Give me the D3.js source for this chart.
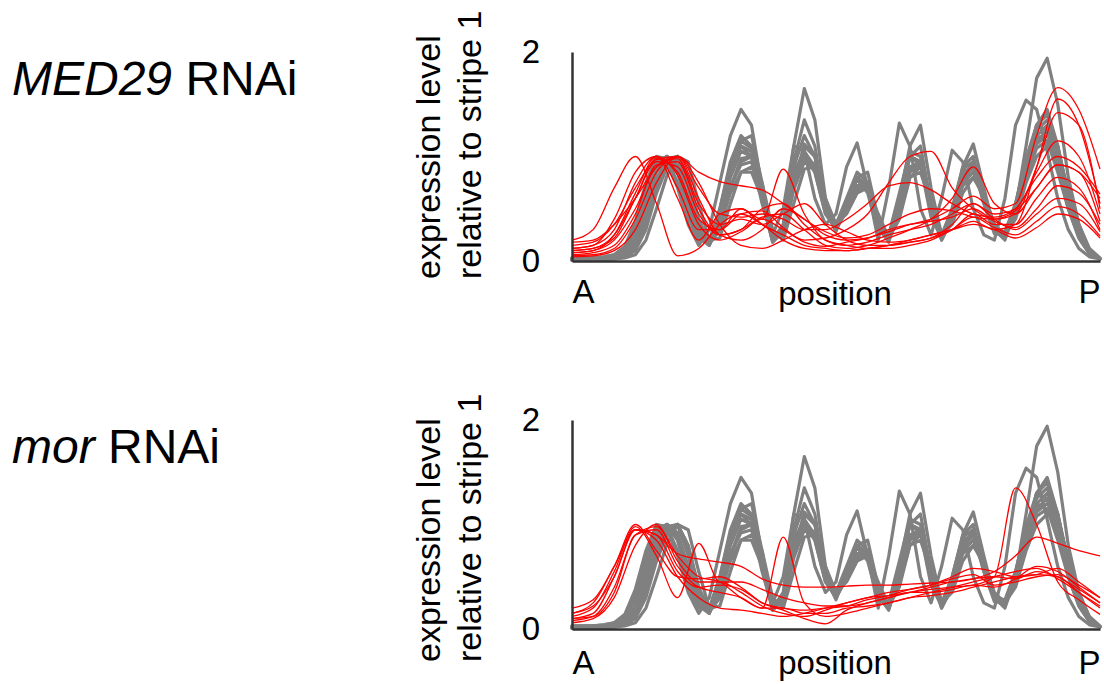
<!DOCTYPE html>
<html><head><meta charset="utf-8">
<script src="https://cdn.jsdelivr.net/npm/d3@7"></script>
<style>
body{margin:0;background:#fff}
svg{display:block}
text{font-family:"Liberation Sans",Arial,sans-serif;fill:#000}
</style>
</head><body>
<svg id="chart" width="1104" height="684"></svg>
<script>
// ---------- DATA ----------
const grayPositions = [0,2,4,6,8,10,12,14,16,18,20,22,24,26,28,30,32,34,36,38,40,42,44,46,48,50,52,54,56,58,60,62,64,66,68,70,72,74,76,78,80,82,84,86,88,90,92,94,96,98,100];
const redPositions = [0,4,8,12,16,20,24,28,32,36,40,44,48,52,56,60,64,68,72,76,80,84,88,92,96,100];

// wild-type reference profiles (gray), same in both panels
const wildTypeProfiles = [
 [0.03,0.03,0.03,0.04,0.06,0.12,0.35,0.7,1.0,0.95, 0.7,0.35,0.15,0.3,0.75,1.2,1.45,1.3,0.7,0.25, 0.5,1.1,1.05,0.6,0.35,0.45,0.9,1.13,0.7,0.2, 0.7,1.32,1.1,0.5,0.25,0.6,1.06,0.95,0.5,0.25, 0.2,0.6,1.3,1.54,1.45,1.05,0.6,0.3,0.12,0.04, 0.02],
 [0.01,0.01,0.01,0.02,0.03,0.05,0.12,0.35,0.7,0.95, 1.0,0.75,0.35,0.15,0.4,0.85,1.15,1.2,0.75,0.2, 0.35,1.1,1.65,1.35,0.6,0.3,0.5,0.8,0.85,0.4, 0.2,0.6,1.1,1.3,0.7,0.25,0.4,0.9,1.12,0.7, 0.3,0.2,0.5,1.1,1.75,1.94,1.5,0.8,0.35,0.1, 0.02],
 [0.02,0.02,0.02,0.03,0.04,0.08,0.22,0.55,0.9,1.0, 0.9,0.55,0.25,0.15,0.45,0.85,1.1,1.05,0.6,0.2, 0.3,0.95,1.35,1.1,0.5,0.3,0.55,0.8,0.7,0.3, 0.22,0.6,1.0,0.95,0.45,0.22,0.45,0.85,0.9,0.55, 0.28,0.25,0.5,0.9,1.3,1.45,1.1,0.6,0.28,0.08, 0.02],
 [0.01,0.01,0.01,0.02,0.02,0.04,0.1,0.3,0.65,0.9, 1.0,0.8,0.4,0.18,0.3,0.7,0.95,1.0,0.65,0.22, 0.25,0.75,1.1,1.0,0.55,0.32,0.5,0.72,0.75,0.4, 0.2,0.5,0.9,0.95,0.5,0.2,0.4,0.75,0.85,0.6, 0.3,0.25,0.45,0.85,1.2,1.3,1.1,0.65,0.3,0.1, 0.02],
 [0.02,0.02,0.03,0.03,0.05,0.1,0.28,0.62,0.95,1.0, 0.85,0.5,0.22,0.18,0.5,0.95,1.2,1.1,0.6,0.2, 0.3,0.8,1.0,0.85,0.45,0.35,0.6,0.85,0.75,0.3, 0.25,0.65,1.05,1.0,0.45,0.25,0.5,0.9,1.0,0.6, 0.3,0.28,0.55,0.95,1.2,1.15,0.85,0.5,0.22,0.07, 0.02],
 [0.01,0.01,0.01,0.01,0.02,0.03,0.06,0.2,0.5,0.82, 1.0,0.95,0.55,0.2,0.22,0.55,0.85,0.9,0.75,0.3, 0.2,0.55,0.88,0.9,0.6,0.35,0.45,0.65,0.7,0.45, 0.22,0.4,0.8,0.9,0.6,0.25,0.35,0.65,0.8,0.65, 0.35,0.25,0.4,0.75,1.0,1.1,1.0,0.7,0.35,0.12, 0.03],
 [0.02,0.02,0.02,0.03,0.04,0.07,0.18,0.5,0.85,1.0, 0.92,0.6,0.28,0.16,0.4,0.8,1.05,1.0,0.6,0.18, 0.28,0.8,1.05,0.9,0.5,0.28,0.55,0.8,0.72,0.32, 0.18,0.55,1.0,1.1,0.55,0.2,0.42,0.8,0.95,0.62, 0.28,0.22,0.5,0.9,1.25,1.35,1.05,0.6,0.27,0.09, 0.02],
 [0.02,0.02,0.02,0.02,0.03,0.06,0.15,0.42,0.78,0.98, 1.0,0.7,0.32,0.17,0.35,0.72,0.92,0.95,0.62,0.22, 0.26,0.72,1.0,0.92,0.55,0.33,0.5,0.72,0.75,0.38, 0.2,0.48,0.88,0.95,0.52,0.22,0.4,0.78,0.9,0.6, 0.3,0.26,0.48,0.85,1.15,1.25,1.05,0.62,0.3,0.1, 0.02],
 [0.02,0.02,0.02,0.03,0.05,0.1,0.3,0.65,0.95,1.0, 0.85,0.5,0.22,0.15,0.45,0.9,1.15,1.08,0.58,0.18, 0.3,0.9,1.2,1.0,0.5,0.3,0.55,0.8,0.72,0.3, 0.22,0.6,1.0,0.95,0.48,0.22,0.45,0.82,0.9,0.58, 0.28,0.24,0.5,0.92,1.3,1.4,1.1,0.62,0.28,0.09, 0.02],
 [0.01,0.01,0.02,0.02,0.03,0.05,0.14,0.4,0.75,0.97, 1.0,0.75,0.35,0.18,0.32,0.65,0.85,0.85,0.6,0.25, 0.25,0.68,0.95,0.88,0.55,0.36,0.48,0.68,0.7,0.42, 0.22,0.45,0.8,0.85,0.55,0.24,0.38,0.72,0.8,0.62, 0.32,0.27,0.45,0.8,1.08,1.15,1.0,0.62,0.3,0.1, 0.02],
 [0.03,0.03,0.03,0.04,0.06,0.14,0.38,0.75,1.0,0.98, 0.75,0.42,0.2,0.2,0.5,0.92,1.1,1.0,0.55,0.2, 0.32,0.85,1.05,0.85,0.45,0.3,0.58,0.78,0.65,0.28, 0.24,0.62,1.0,0.92,0.42,0.22,0.5,0.88,0.95,0.55, 0.26,0.26,0.55,0.98,1.3,1.25,0.9,0.5,0.22,0.07, 0.02],
 [0.02,0.02,0.02,0.02,0.03,0.05,0.12,0.35,0.7,0.95, 1.0,0.8,0.38,0.16,0.3,0.7,0.98,1.0,0.68,0.24, 0.24,0.7,1.12,1.0,0.55,0.3,0.48,0.7,0.72,0.42, 0.2,0.45,0.85,0.92,0.55,0.22,0.38,0.75,0.85,0.64, 0.32,0.24,0.44,0.82,1.12,1.2,1.05,0.66,0.32,0.1, 0.02]
];

// MED29 RNAi profiles (red, top panel)
const med29Profiles = [
 [0.15,0.18,0.35,0.7,0.97,1.0,0.85,0.76,0.72,0.68,0.55,0.4,0.28,0.22,0.25,0.35,0.45,0.5,0.48,0.42,0.4,0.48,0.7,0.92,0.85,0.6],
 [0.1,0.12,0.22,0.6,0.98,0.85,0.4,0.3,0.45,0.48,0.32,0.18,0.14,0.18,0.22,0.28,0.35,0.4,0.5,0.62,0.5,0.55,1.2,1.66,1.45,0.88],
 [0.2,0.3,0.7,1.0,0.55,0.05,0.12,0.35,0.45,0.35,0.2,0.12,0.1,0.1,0.12,0.15,0.2,0.25,0.3,0.38,0.3,0.35,0.9,1.55,1.3,0.55],
 [0.08,0.1,0.25,0.65,1.0,0.82,0.35,0.2,0.28,0.4,0.3,0.2,0.22,0.3,0.45,0.75,1.0,1.05,0.7,0.5,0.4,0.45,0.9,1.42,1.3,0.5],
 [0.12,0.15,0.3,0.75,1.0,0.7,0.3,0.3,0.5,0.4,0.88,0.45,0.2,0.15,0.18,0.25,0.3,0.35,0.45,0.55,0.45,0.5,0.85,1.15,1.0,0.45],
 [0.18,0.2,0.35,0.6,0.9,1.0,0.7,0.45,0.42,0.45,0.4,0.3,0.3,0.4,0.55,0.72,0.75,0.68,0.55,0.45,0.42,0.5,0.8,1.0,0.9,0.64],
 [0.1,0.12,0.25,0.6,0.95,0.9,0.45,0.25,0.3,0.42,0.45,0.3,0.15,0.12,0.15,0.22,0.3,0.4,0.6,0.9,0.55,0.45,0.7,0.92,0.85,0.38],
 [0.12,0.15,0.4,0.85,1.0,0.6,0.2,0.45,0.5,0.35,0.25,0.15,0.12,0.1,0.12,0.15,0.18,0.22,0.3,0.45,0.35,0.35,0.6,0.8,0.7,0.3],
 [0.05,0.06,0.12,0.4,0.85,1.0,0.6,0.25,0.2,0.3,0.5,0.4,0.25,0.2,0.22,0.3,0.35,0.38,0.42,0.5,0.38,0.32,0.5,0.72,0.65,0.35],
 [0.08,0.1,0.2,0.5,0.9,0.98,0.55,0.35,0.4,0.35,0.45,0.55,0.35,0.2,0.15,0.15,0.18,0.22,0.35,0.55,0.4,0.3,0.45,0.6,0.55,0.28],
 [0.06,0.08,0.15,0.45,0.92,0.95,0.5,0.25,0.3,0.5,0.55,0.35,0.2,0.15,0.12,0.12,0.15,0.2,0.3,0.42,0.32,0.25,0.38,0.52,0.45,0.24],
 [0.04,0.05,0.1,0.3,0.75,1.0,0.75,0.35,0.15,0.12,0.2,0.3,0.35,0.28,0.2,0.18,0.2,0.25,0.3,0.35,0.3,0.22,0.32,0.45,0.4,0.22]
];

// mor RNAi profiles (red, bottom panel)
const morProfiles = [
 [0.15,0.25,0.6,0.95,0.9,0.72,0.67,0.64,0.6,0.48,0.42,0.4,0.4,0.41,0.42,0.42,0.43,0.44,0.45,0.48,0.55,0.7,0.88,0.82,0.75,0.7],
 [0.1,0.15,0.5,0.95,0.85,0.5,0.3,0.2,0.18,0.15,0.12,0.15,0.2,0.25,0.3,0.32,0.35,0.38,0.4,0.42,0.5,1.35,1.0,0.45,0.28,0.14],
 [0.12,0.2,0.55,0.98,0.7,0.3,0.82,0.45,0.45,0.38,0.3,0.25,0.22,0.22,0.25,0.3,0.35,0.4,0.45,0.48,0.5,0.48,0.55,0.5,0.38,0.25],
 [0.1,0.12,0.35,0.9,0.95,0.6,0.4,0.35,0.3,0.2,0.88,0.25,0.12,0.15,0.2,0.25,0.3,0.32,0.35,0.4,0.45,0.5,0.52,0.5,0.35,0.2],
 [0.06,0.1,0.3,0.8,1.0,0.65,0.45,0.45,0.35,0.22,0.15,0.12,0.18,0.25,0.3,0.35,0.38,0.42,0.5,0.58,0.55,0.5,0.52,0.58,0.45,0.3],
 [0.2,0.28,0.6,1.0,0.75,0.5,0.48,0.5,0.4,0.25,0.18,0.1,0.05,0.18,0.25,0.3,0.35,0.35,0.38,0.42,0.4,0.48,0.6,0.55,0.4,0.25],
 [0.15,0.22,0.5,0.95,0.9,0.55,0.4,0.42,0.38,0.25,0.2,0.18,0.2,0.22,0.28,0.32,0.38,0.42,0.48,0.52,0.42,0.45,0.5,0.52,0.42,0.3],
 [0.08,0.12,0.4,0.9,0.98,0.7,0.5,0.45,0.3,0.2,0.2,0.15,0.15,0.2,0.22,0.25,0.3,0.35,0.4,0.45,0.5,0.55,0.58,0.48,0.35,0.22]
];

const yTickValues = [0, 2];
const xTickValues = [0, 100];
const xTickLabels = ["A", "P"];
const xAxisTitle = "position";
const yAxisTitleLines = ["expression level", "relative to stripe 1"];
const panelTitles = [{ital: "MED29", rest: " RNAi"}, {ital: "mor", rest: " RNAi"}];

// ---------- LAYOUT ----------
const layout = [
  {top: 52, bottom: 261, titleY: 95, ylabY: 279, xPad: 19, posY: 305, red: med29Profiles},
  {top: 420, bottom: 629, titleY: 463, ylabY: 662, xPad: 22, posY: 674, red: morProfiles}
];
const left = 572, right = 1100;

const svg = d3.select("#chart");

layout.forEach((p, k) => {
  const x = d3.scaleLinear().domain([0, 100]).range([left, right]);
  const y = d3.scaleLinear().domain([0, 2]).range([p.bottom, p.top]);
  const g = svg.append("g");

  const grayLine = d3.line().x((d, i) => x(grayPositions[i])).y(d => y(d)).curve(d3.curveLinear);
  g.append("g").selectAll("path").data(wildTypeProfiles).join("path")
    .attr("d", grayLine).attr("fill", "none").attr("stroke", "#808080")
    .attr("stroke-width", 3.2).attr("stroke-linejoin", "round").attr("stroke-linecap", "round");

  const redLine = d3.line().x((d, i) => x(redPositions[i])).y(d => y(d)).curve(d3.curveMonotoneX);
  g.append("g").selectAll("path").data(p.red).join("path")
    .attr("d", redLine).attr("fill", "none").attr("stroke", "#ff0000")
    .attr("stroke-width", 1.3);

  // axes
  const yAxis = g.append("g").attr("transform", `translate(${left},0)`)
    .call(d3.axisLeft(y).tickValues(yTickValues).tickFormat(d3.format("d")).tickSize(0).tickPadding(32));
  const xAxis = g.append("g").attr("transform", `translate(0,${p.bottom})`)
    .call(d3.axisBottom(x).tickValues(xTickValues).tickFormat((d, i) => xTickLabels[i]).tickSize(0).tickPadding(p.xPad));
  [yAxis, xAxis].forEach(a => {
    a.select(".domain").attr("stroke", "#333").attr("stroke-width", 2.5);
    a.selectAll("text").attr("font-size", 33).attr("font-family", '"Liberation Sans", Arial, sans-serif').attr("fill", "#000");
  });
  xAxis.selectAll(".tick text").attr("text-anchor", (d, i) => i === 0 ? "start" : "end");

  g.append("text").attr("x", (left + right) / 2 - 1).attr("y", p.posY)
    .attr("text-anchor", "middle").attr("font-size", 33).text(xAxisTitle);

  // y-axis title (two lines, rotated)
  [440, 481].forEach((bx, li) => {
    g.append("text").attr("transform", `translate(${bx},${p.ylabY}) rotate(-90)`)
      .attr("text-anchor", "start").attr("font-size", 34).text(yAxisTitleLines[li]);
  });

  // panel title
  const t = g.append("text").attr("x", 12).attr("y", p.titleY).attr("font-size", 48);
  t.append("tspan").attr("font-style", "italic").text(panelTitles[k].ital);
  t.append("tspan").text(panelTitles[k].rest);
});
</script>
</body></html>
